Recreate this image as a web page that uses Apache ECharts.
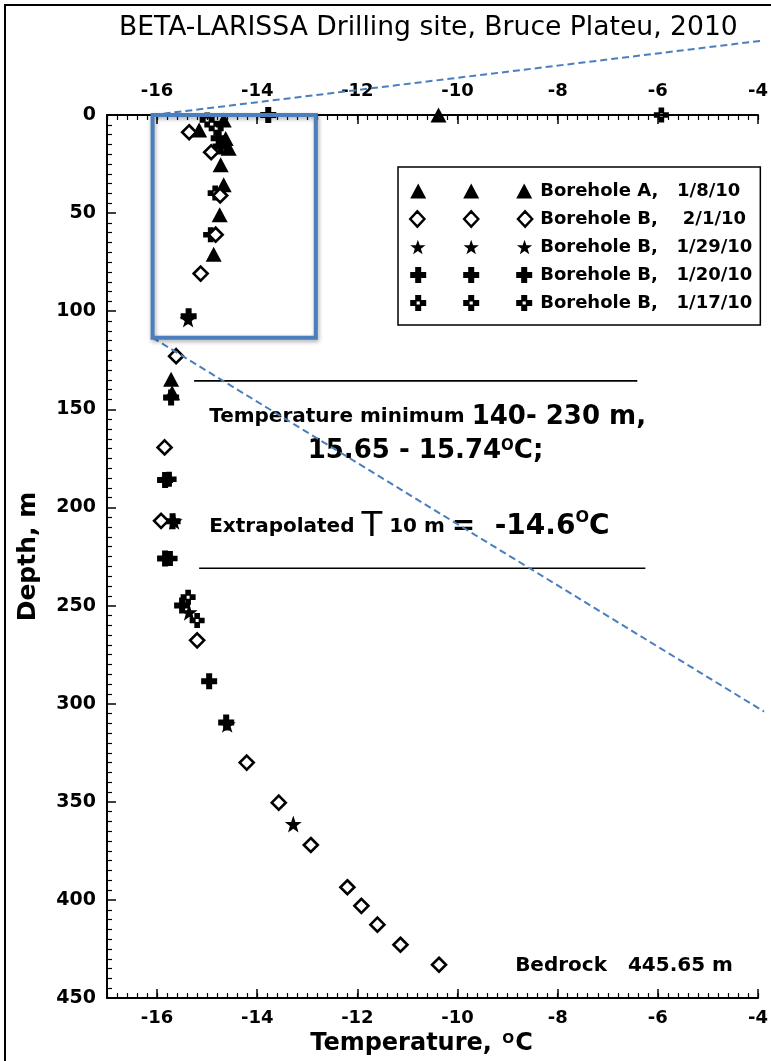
<!DOCTYPE html>
<html>
<head>
<meta charset="utf-8">
<script src="https://cdn.jsdelivr.net/npm/echarts@6/dist/echarts.min.js"></script>
<style>html,body{margin:0;padding:0;background:#fff}#c{width:771px;height:1061px}</style>
</head>
<body>
<div id="c"></div>
<script>
// ---------------- data ----------------
const temperatureTicks = [-16, -14, -12, -10, -8, -6, -4];
const seriesNames = [
  'Borehole A,   1/8/10',
  'Borehole B,    2/1/10',
  'Borehole B,   1/29/10',
  'Borehole B,   1/20/10',
  'Borehole B,   1/17/10'
];
// [temperature °C, depth m]
const boreholeA_0108 = [
  [-10.38, 0], [-14.67, 2.5], [-15.16, 7.6], [-14.63, 12], [-14.57, 17], [-14.73, 25.4],
  [-14.67, 35.6], [-14.75, 50.8], [-14.87, 71], [-15.72, 134.7], [-15.70, 141.5]
];
const boreholeB_0201 = [
  [-15.36, 8.8], [-14.92, 19], [-14.74, 41], [-14.83, 61], [-15.13, 80.8], [-15.62, 122.9],
  [-15.85, 169.4], [-15.92, 206.8], [-15.2, 267.7], [-14.21, 330], [-13.57, 350.4], [-12.93, 372],
  [-12.2, 393.5], [-11.92, 403], [-11.6, 412.6], [-11.14, 422.8], [-10.37, 433]
];
const boreholeB_0129 = [
  [-15.38, 104], [-15.66, 207], [-15.36, 253.4], [-14.6, 310.5], [-13.28, 361.3]
];
const boreholeB_0120 = [
  [-13.78, 0], [-14.77, 11.9], [-14.73, 16.1], [-15.37, 102.5], [-15.72, 144], [-15.84, 186],
  [-15.69, 207], [-15.84, 226], [-15.5, 250], [-14.96, 288.6], [-14.62, 309.6]
];
const boreholeB_0117 = [
  [-5.93, 0], [-15.0, 2.5], [-14.82, 6.8], [-14.84, 39.8], [-14.93, 61], [-15.76, 185.6],
  [-15.74, 226], [-15.38, 245.7], [-15.2, 257.6]
];

// ---------------- symbols ----------------
const CROSS = 'path://M5,0H11V5H16V11H11V16H5V11H0V5H5Z';
const OPEN_CROSS = 'path://M5,0H11V5H16V11H11V16H5V11H0V5H5Z M6.4,6.4V9.6H9.6V6.4Z';
const STAR = 'path://M8,0L9.88,5.41L15.61,5.53L11.04,8.99L12.7,14.47L8,11.2L3.3,14.47L4.96,8.99L0.39,5.53L6.12,5.41Z';

function triple(single) {
  const shift = (s, dx) => s.replace(/([MLHVZ])([^MLHVZ]*)/g, (m, cmd, args) => {
    if (cmd === 'Z' || cmd === 'V') return cmd + args;
    const nums = args.split(',').map(Number);
    if (cmd === 'H') return 'H' + (nums[0] + dx);
    const out = [];
    for (let i = 0; i < nums.length; i += 2) out.push((nums[i] + dx) + ',' + nums[i + 1]);
    return cmd + out.join(',');
  });
  return 'path://' + [0, 53, 106].map(dx => shift(single, dx)).join(' ');
}
const TRI_1 = 'M8,0L16,15L0,15Z';
const DIA_1 = 'M8,0L15,7.5L8,15L1,7.5Z';
const STAR_1 = STAR.replace('path://', '');
const CROSS_1 = CROSS.replace('path://', '');
const OPEN_1 = OPEN_CROSS.replace('path://', '');

const FONT = 'DejaVu Sans';
const blk = '#000';
const blue = '#4a7ebd';

const xBase = { type: 'value', min: -17, max: -4, splitLine: { show: false } };
const majorX = (pos, margin, extra) => Object.assign({}, xBase, {
  position: pos, interval: 1,
  axisLine: { show: true, onZero: false, lineStyle: { color: blk, width: 2 } },
  axisTick: { show: true, inside: true, length: 9, customValues: temperatureTicks, lineStyle: { color: blk, width: 1.5 } },
  axisLabel: { customValues: temperatureTicks, color: blk, fontFamily: FONT, fontWeight: 'bold', fontSize: 18, margin: margin }
}, extra || {});
const minorX = pos => Object.assign({}, xBase, {
  position: pos, interval: 0.2,
  axisLine: { show: false, onZero: false },
  axisTick: { show: true, inside: true, length: 5, lineStyle: { color: blk, width: 1.2 } },
  axisLabel: { show: false }
});

function scatter(name, data, symbol, size, style) {
  return {
    type: 'scatter', name, data, symbol, symbolSize: size,
    xAxisIndex: 0, yAxisIndex: 0, clip: false,
    itemStyle: Object.assign({ opacity: 1 }, style), emphasis: { disabled: true }
  };
}

const option = {
  animation: false,
  backgroundColor: '#fff',
  title: {
    text: 'BETA-LARISSA Drilling site, Bruce Plateu, 2010',
    left: 114, top: 10,
    textStyle: { fontFamily: FONT, fontWeight: 'normal', fontSize: 26.6, color: blk }
  },
  grid: { left: 107, right: 6, top: 115, bottom: 61, containLabel: false },
  xAxis: [
    majorX('bottom', 11, {
      name: 'Temperature, {s|O}C', nameLocation: 'middle', nameGap: 31,
      nameTextStyle: {
        fontFamily: FONT, fontWeight: 'bold', fontSize: 24, color: blk, padding: [0, 22, 0, 0],
        rich: { s: { fontFamily: FONT, fontWeight: 'bold', fontSize: 14, color: blk, verticalAlign: 'top', padding: [0, 1, 0, 2] } }
      }
    }),
    minorX('bottom'),
    majorX('top', 15),
    minorX('top')
  ],
  yAxis: {
    type: 'value', inverse: true, min: 0, max: 450, interval: 50,
    axisLine: { show: true, onZero: false, lineStyle: { color: blk, width: 2 } },
    axisTick: { show: true, inside: true, length: 9, lineStyle: { color: blk, width: 1.5 } },
    minorTick: { show: true, splitNumber: 10, length: 5, lineStyle: { color: blk, width: 1.2 } },
    axisLabel: { color: blk, fontFamily: FONT, fontWeight: 'bold', fontSize: 19, margin: 11 },
    splitLine: { show: false },
    name: 'Depth, m', nameLocation: 'middle', nameRotate: 90, nameGap: 66,
    nameTextStyle: { fontFamily: FONT, fontWeight: 'bold', fontSize: 25, color: blk }
  },
  legend: {
    orient: 'vertical', left: 398, top: 167,
    padding: [15, 8, 13, 11], itemGap: 10, itemWidth: 122, itemHeight: 16,
    borderColor: blk, borderWidth: 1.5, backgroundColor: '#fff',
    selectedMode: false,
    textStyle: { fontFamily: FONT, fontWeight: 'bold', fontSize: 18, color: blk, lineHeight: 18, padding: [0, 0, 0, 3] },
    data: [
      { name: seriesNames[0], icon: triple(TRI_1), itemStyle: { color: blk, borderWidth: 0, opacity: 1 } },
      { name: seriesNames[1], icon: triple(DIA_1), itemStyle: { color: '#fff', borderColor: blk, borderWidth: 2.4, opacity: 1 } },
      { name: seriesNames[2], icon: triple(STAR_1), itemStyle: { color: blk, borderWidth: 0, opacity: 1 } },
      { name: seriesNames[3], icon: triple(CROSS_1), itemStyle: { color: blk, borderWidth: 0, opacity: 1 } },
      { name: seriesNames[4], icon: triple(OPEN_1), itemStyle: { color: blk, borderWidth: 0, opacity: 1 } }
    ]
  },
  series: [
    scatter(seriesNames[4], boreholeB_0117, OPEN_CROSS, 15, { color: blk }),
    scatter(seriesNames[3], boreholeB_0120, CROSS, 16, { color: blk }),
    scatter(seriesNames[2], boreholeB_0129, STAR, 17, { color: blk }),
    scatter(seriesNames[0], boreholeA_0108, 'triangle', [16, 15], { color: blk }),
    scatter(seriesNames[1], boreholeB_0201, 'diamond', 14, { color: '#fff', borderColor: blk, borderWidth: 2.6 })
  ]
};

const chart = echarts.init(document.getElementById('c'), null, { renderer: 'canvas' });
chart.setOption(option);

// ---------------- annotations (anchored in data space) ----------------
const P = v => chart.convertToPixel({ xAxisIndex: 0, yAxisIndex: 0 }, v);
const boxA = P([-16.09, 0]), boxB = P([-12.83, 113.5]);
const dashTop = P([-3.88, -38]), dashBot = P([-3.88, 304]);
const l1a = P([-15.26, 135.5]), l1b = P([-6.41, 135.5]);
const l2a = P([-15.16, 231]), l2b = P([-6.25, 231]);
const t1 = P([-14.96, 154]), t2 = P([-10.64, 171.3]), t3 = P([-14.96, 210]), t4 = P([-8.85, 433.6]);

const bold = (size) => ({ fontFamily: FONT, fontWeight: 'bold', fontSize: size, fill: blk, color: blk });
const rich = {
  a: bold(20),
  b: bold(26),
  c: bold(28),
  s: Object.assign(bold(15), { verticalAlign: 'top' }),
  s2: Object.assign(bold(16), { verticalAlign: 'top' }),
  T: { fontFamily: FONT, fontWeight: 'normal', fontSize: 34, color: blk }
};

chart.setOption({
  graphic: [
    { type: 'rect', z: 100, silent: true, shape: { x: 5, y: 5, width: 900, height: 1200 },
      style: { fill: 'none', stroke: blk, lineWidth: 2 } },
    { type: 'line', z: 90, silent: true, shape: { x1: l1a[0], y1: l1a[1], x2: l1b[0], y2: l1b[1] },
      style: { stroke: blk, lineWidth: 1.6 } },
    { type: 'line', z: 90, silent: true, shape: { x1: l2a[0], y1: l2a[1], x2: l2b[0], y2: l2b[1] },
      style: { stroke: blk, lineWidth: 1.6 } },
    { type: 'text', z: 90, silent: true, x: t1[0], y: t1[1],
      style: { text: '{a|Temperature minimum }{b|140- 230 m,}', rich, align: 'left', verticalAlign: 'middle' } },
    { type: 'text', z: 90, silent: true, x: t2[0], y: t2[1],
      style: { text: '{b|15.65 - 15.74}{s|O}{b|C;}', rich, align: 'center', verticalAlign: 'middle' } },
    { type: 'text', z: 90, silent: true, x: t3[0], y: t3[1],
      style: { text: '{a|Extrapolated }{T|T}{a| 10 m }{c|=  -14.6}{s2|O}{c|C}', rich, align: 'left', verticalAlign: 'middle' } },
    { type: 'text', z: 90, silent: true, x: t4[0], y: t4[1],
      style: { text: '{a|Bedrock   445.65 m}', rich, align: 'left', verticalAlign: 'middle' } },
    { type: 'line', z: 95, silent: true, shape: { x1: boxA[0], y1: boxA[1], x2: dashTop[0], y2: dashTop[1] },
      style: { stroke: blue, lineWidth: 2, lineDash: [7, 4] } },
    { type: 'line', z: 95, silent: true, shape: { x1: boxA[0], y1: boxB[1], x2: dashBot[0], y2: dashBot[1] },
      style: { stroke: blue, lineWidth: 2, lineDash: [7, 4] } },
    { type: 'rect', z: 96, silent: true,
      shape: { x: boxA[0], y: boxA[1], width: boxB[0] - boxA[0], height: boxB[1] - boxA[1] },
      style: { fill: 'none', stroke: blue, lineWidth: 4, shadowBlur: 4, shadowColor: 'rgba(0,0,0,0.35)', shadowOffsetX: 1, shadowOffsetY: 2 } }
  ]
});
</script>
</body>
</html>
